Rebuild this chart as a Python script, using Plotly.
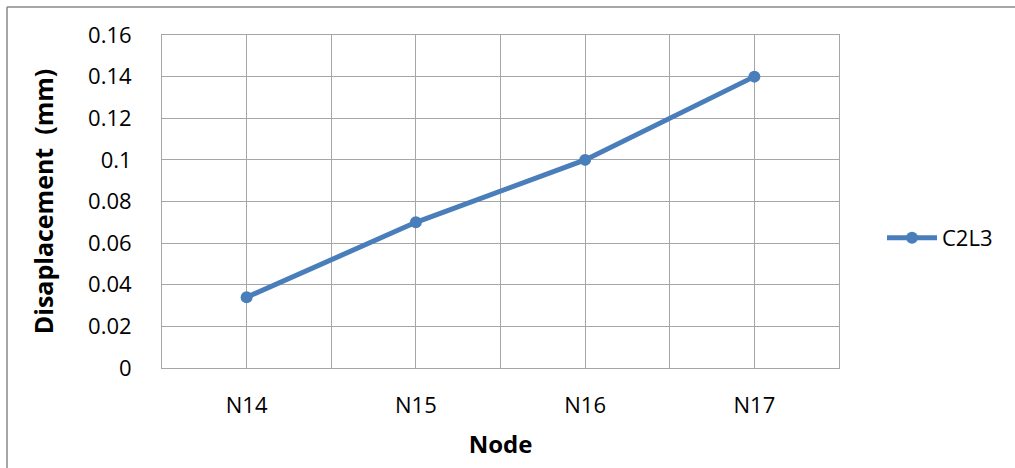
import plotly.graph_objects as go

nodes = ["N14", "N15", "N16", "N17"]
c2l3 = [0.034, 0.07, 0.10, 0.14]
y_ticks = [0, 0.02, 0.04, 0.06, 0.08, 0.1, 0.12, 0.14, 0.16]
y_tick_text = ["0", "0.02", "0.04", "0.06", "0.08", "0.1", "0.12", "0.14", "0.16"]

FONT = "Open Sans"
GRID = "#a6a6a6"
BLUE = "#4a7ebb"

xs = list(range(len(nodes)))
boundaries = [i - 0.5 for i in range(len(nodes) + 1)]

W, H = 1015, 468
L, T = 162, 35
pw, ph = 677, 333
R, B = W - L - pw, H - T - ph

def px(xpage):
    return (xpage - L) / pw

def py(ypage):
    return (T + ph - ypage) / ph

fig = go.Figure()
fig.add_trace(go.Scatter(
    x=xs, y=c2l3, name="C2L3", mode="lines+markers",
    line=dict(color=BLUE, width=5),
    marker=dict(color=BLUE, size=12),
))

fig.update_layout(
    width=W, height=H,
    margin=dict(l=L, r=R, t=T, b=B),
    paper_bgcolor="white", plot_bgcolor="white",
    font=dict(family=FONT, size=22, color="black"),
    showlegend=True,
    legend=dict(x=px(882), y=py(238),
                xanchor="left", yanchor="middle",
                font=dict(family=FONT, size=22, color="black"),
                bgcolor="rgba(0,0,0,0)", itemwidth=50),
    xaxis=dict(
        range=[-0.5, len(nodes) - 0.5],
        tickvals=xs, ticktext=nodes,
        showgrid=True, gridcolor=GRID, gridwidth=1,
        showline=True, linecolor=GRID, linewidth=1, mirror=True,
        ticks="", zeroline=False,
        minor=dict(tickvals=boundaries, showgrid=True, gridcolor=GRID, gridwidth=1, ticks=""),
        ticklabelstandoff=18,
        tickfont=dict(family=FONT, size=22),
        title=dict(text="<b>Node</b>", font=dict(family=FONT, size=24), standoff=17),
    ),
    yaxis=dict(
        range=[0, 0.16],
        tickvals=y_ticks, ticktext=y_tick_text,
        showgrid=True, gridcolor=GRID, gridwidth=1,
        showline=True, linecolor=GRID, linewidth=1, mirror=True,
        ticks="", zeroline=False,
        ticklabelstandoff=25,
        tickfont=dict(family=FONT, size=22),
        title=dict(text="<b>Disaplacement\u00a0\u00a0(mm)</b>", font=dict(family=FONT, size=25), standoff=27),
    ),
)

# outer chart border: only its left and top edges fall inside the picture
BORDER = dict(color="#888888", width=1.5)
fig.add_shape(type="line", xref="paper", yref="paper",
              x0=px(7), x1=px(7), y0=py(480), y1=py(7), line=BORDER, layer="below")
fig.add_shape(type="line", xref="paper", yref="paper",
              x0=px(7), x1=px(1030), y0=py(7), y1=py(7), line=BORDER, layer="below")

fig.write_html(
    "out.html",
    config={"displayModeBar": False},
    post_script="document.documentElement.style.margin='0';document.body.style.margin='0';"
                "document.body.style.overflow='hidden';document.documentElement.style.overflow='hidden';",
)
